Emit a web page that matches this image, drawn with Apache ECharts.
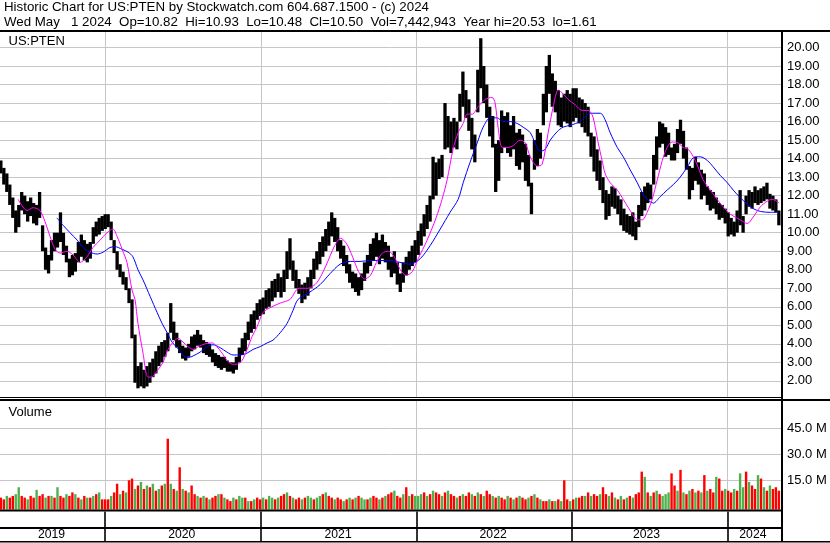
<!DOCTYPE html>
<html><head><meta charset="utf-8">
<script src="https://cdn.jsdelivr.net/npm/echarts@6/dist/echarts.min.js"></script>
<style>html,body{margin:0;padding:0;background:#fff}#c{width:830px;height:543px}</style>
</head><body><div id="c"></div>
<script>
// ---- DATA (weekly, first bar = Wed 2019-05-01) ----
const lo2019=[13.2,12.6,12.2,11.5,10.8,10.0,10.3,11.2,11.0,10.6,10.9,10.5,10.4,10.8,9.0,8.0,7.8,8.5,9.0,9.2,9.5,8.8,8.4,7.6,7.7,7.9,8.4,8.7,8.5,8.4,8.6,9.4,9.8,9.9,10.1];
const hi2019=[13.9,13.5,13.2,12.6,11.9,11.2,11.5,12.2,12.0,11.7,11.9,11.6,11.5,12.2,10.4,9.2,8.8,9.6,10.0,10.0,11.1,10.0,9.3,8.6,8.8,8.9,9.5,9.9,9.6,9.4,9.5,10.3,10.6,10.8,10.9];
const lo2020=[10.2,10.3,9.6,8.9,8.0,7.6,7.2,6.9,6.2,4.3,1.9,1.6,1.7,1.6,1.7,1.9,2.2,2.4,2.8,3.0,3.3,3.6,4.6,4.2,3.8,3.5,3.2,3.1,3.3,3.6,3.7,3.9,3.8,3.5,3.4,3.3,3.0,2.8,2.7,2.6,2.7,2.5,2.5,2.4,2.6,3.0,3.4,3.6,4.2,4.6,4.8,5.3];
const hi2020=[11.0,11.0,10.6,9.6,9.0,8.3,7.9,7.6,7.0,6.4,4.5,2.8,3.0,2.6,2.8,3.0,3.2,3.6,3.9,4.1,4.2,4.6,6.2,5.2,4.6,4.2,3.9,3.8,4.0,4.4,4.5,4.75,4.5,4.2,4.1,4.0,3.7,3.5,3.4,3.3,3.3,3.1,3.0,3.0,3.3,3.8,4.3,4.6,5.2,5.6,5.8,6.2];
const lo2021=[5.5,5.6,5.9,6.0,6.3,6.5,6.8,6.5,6.8,7.5,8.0,7.4,7.0,6.7,6.2,6.4,6.6,7.0,7.5,8.0,8.3,8.7,9.0,9.3,9.8,9.5,9.0,8.6,8.2,7.8,7.3,7.0,6.8,6.6,6.9,7.4,7.8,8.2,8.5,8.7,8.3,8.6,8.4,8.0,7.6,7.8,7.2,6.8,7.3,7.7,8.0,8.2,8.4];
const hi2021=[6.4,6.5,6.9,7.0,7.4,7.5,7.8,7.6,8.0,9.0,9.7,8.5,8.0,7.5,7.2,7.3,7.6,8.0,8.6,9.0,9.5,9.8,10.2,10.6,11.1,10.8,10.3,9.6,9.3,8.8,8.3,7.9,7.8,7.6,7.8,8.4,8.8,9.4,9.7,10.0,9.6,9.9,9.5,9.3,8.7,9.0,8.4,7.8,8.4,8.7,9.0,9.3,9.6];
const lo2022=[8.8,9.3,9.8,10.2,10.6,11.8,12.0,12.9,13.0,14.5,14.6,14.3,14.6,14.5,16.0,16.8,16.2,15.5,14.5,13.8,16.5,17.8,17.0,16.2,15.2,14.6,12.2,12.8,14.3,14.6,14.3,14.1,14.5,13.6,13.4,13.8,12.8,12.5,11.0,13.4,13.6,14.0,15.8,16.5,17.5,16.8,16.5,15.8,15.7,16.0,15.9,15.7];
const hi2022=[10.1,10.5,11.0,11.5,12.0,14.1,13.8,14.0,14.2,17.0,16.3,16.0,16.2,16.0,17.5,18.7,17.7,17.2,16.2,15.3,18.8,20.5,19.0,18.0,16.8,16.3,14.8,15.0,16.6,16.3,16.5,15.8,16.3,15.4,15.6,15.3,14.8,14.2,12.7,15.0,15.6,15.4,17.5,19.0,19.6,18.6,18.2,17.7,17.3,17.5,17.7,17.5];
const lo2023=[16.0,16.2,15.9,15.7,15.4,15.2,14.1,13.3,12.8,12.3,11.6,10.7,10.9,11.4,11.3,11.0,10.4,10.1,10.0,9.9,9.8,9.6,10.3,10.9,11.2,11.6,11.8,12.6,13.4,14.6,14.8,14.1,14.2,13.9,13.9,14.3,14.8,14.0,13.4,11.8,12.3,12.8,12.6,11.8,12.0,11.5,11.2,11.3,11.0,10.7,10.8,10.5];
const hi2023=[17.8,17.8,17.3,17.2,17.0,16.8,15.4,15.2,14.5,13.9,13.0,12.3,12.1,12.5,12.4,12.0,11.8,11.3,11.0,10.9,11.1,10.6,11.5,12.2,12.5,12.7,12.6,14.2,15.2,16.0,15.9,15.7,15.4,14.6,14.8,15.6,16.1,15.5,14.6,13.6,13.5,14.1,13.8,13.4,13.2,12.5,12.3,12.2,11.9,11.6,11.5,11.3];
const lo2024=[9.8,9.9,9.8,10.0,10.4,10.0,11.0,11.4,11.3,11.6,11.5,11.6,11.7,11.8,11.3,11.2,11.1,10.4];
const hi2024=[11.1,10.8,10.6,11.2,12.3,10.9,12.0,12.3,12.2,12.5,12.3,12.4,12.5,12.7,12.1,12.0,11.8,11.2];

// volume in millions, and colour (g = up, r = down)
const vol2019=[5,4,6,5,6,7,11,6,5,4,6,5,9.5,6,7,5,6,6,5,11,6,5,7,6,8,7,5,4,6,5,5,6,7,8,4];
const vol2020=[4,4,6,8,13,7,9,8,15,16,10,12,14,10,12,11,13,9,10,12,13,39,13,10,9,22.5,10,9,8,12,7,6,5,6,5,4,5,6,7,7,5,4,3,5,4,6,5,5,3,3,4,5];
const vol2021=[4,5,4,6,5,4,5,6,7,8,6,5,4,5,4,5,6,5,4,5,6,7,8,6,5,4,5,4,3,4,5,4,5,6,5,4,4,5,6,5,4,5,6,7,8,9,6,5,7,11,6,7,6];
const vol2022=[6,7,8,6,7,9,8,7,6,8,9,7,6,5,6,7,6,8,7,6,8,7,6,9,7,6,5,6,5,4,6,5,4,5,6,5,4,5,6,7,5,4,3,3,4,3,3,4,3,15,4,3];
const vol2023=[4,5,5,6,6,8,6,7,6,7,11,7,6,8,5,4,6,4,5,6,5,7,8,20,17,8,6,8,9,7,6,7,8,19,12,9,21,8,7,9,10,8,9,8,18,9,10,8,17,16,9,10];
const vol2024=[9,8,10,9,19,11,20,14,12,10,18,16,11,9,12,10,11,9];
const volDir = 'rrgrrggrrgrrgrrgrgrgrrgrrgrgrgrgrgr' + 'rrgrrgrgrrgrgrgrgrgrgrgrgrgrgrrgrgrgrrgrgrrgrggrgrgr'.slice(0,52) +
  'rgrggrgrrgrgrrgrggrggrgrrgrrgrgrgrggrgrrgrgrrgrrgrgrg' + 'ggrgrgrrgrgrrgrgrrgrgrgrrgrgrrgrgrgrrgrgrgrrgrgrgr' +
  'rgrgrrgrgrrgrrgrgrgrgrgrrrgrgrgrgggrrgrgrgrgrgrgrrgr' + 'rgrrgrggrgrrgrgrgr';

// moving averages: [week index, value]
const maShort=[[5.8,11.8],[8.8,11.2],[10.8,11.35],[13.1,11.2],[14.8,10.6],[16.5,9.8],[18.2,9.1],[19.9,8.9],[22.2,9.0],[24.2,8.8],[26.6,8.4],[28.9,8.7],[30.9,9.2],[33.3,9.6],[35.6,10.0],[37.6,10.2],[39,9.8],[40.7,9.1],[42.3,8.4],[44,6.9],[45,6.4],[46,5.1],[47.7,3.5],[49.4,2.2],[51,2.25],[52.7,2.6],[54.4,3.0],[56.1,3.7],[57.8,4.1],[59.4,4.3],[61.1,4.1],[62.8,3.85],[64.5,3.7],[66.2,3.85],[68.5,4.0],[70.9,4.05],[72.5,3.85],[74.2,3.5],[75.9,3.1],[77.6,2.9],[79.2,2.9],[80.9,3.1],[82.6,3.7],[84.3,4.4],[85.9,4.9],[88,5.7],[90.3,5.95],[93.7,6.2],[97,6.4],[100,7.0],[103,7.0],[106,7.3],[109,8.2],[112,9.3],[114,9.7],[116,9.4],[118,8.7],[120,7.9],[122,7.5],[124,7.7],[126,8.4],[128,8.9],[130,9.0],[132,8.7],[134,8.0],[136,7.7],[138,7.9],[140,8.6],[143,9.6],[146,10.8],[148,11.8],[149.7,12.85],[151.7,14.5],[153.4,15.4],[155.1,15.9],[156.4,16.4],[158.1,16.4],[160.1,16.8],[162.5,17.2],[164.8,17.3],[165.8,17.0],[166.8,15.7],[168.2,14.6],[169.9,14.6],[171.9,14.7],[174.2,15.0],[175.9,14.85],[177.6,14.1],[179.9,13.6],[181.6,13.7],[183.6,15.4],[185.3,16.8],[187,17.7],[188.6,17.5],[190.3,17.2],[192.7,16.9],[195,16.6],[197,16.6],[198.4,16.35],[199.4,15.7],[200.4,14.85],[201.7,13.9],[202.7,13.2],[204.4,12.7],[206.8,12.3],[208.8,11.8],[211.1,11.2],[213.5,10.7],[215.2,10.7],[216.8,11.1],[218.5,11.8],[220.2,12.85],[221.9,13.9],[223.5,14.6],[225.2,14.9],[227.2,14.85],[228.9,14.6],[230.6,14.5],[232.3,14.1],[233.9,13.55],[235.6,12.85],[238,12.3],[240.3,11.8],[242.3,11.4],[244,11.1],[245.7,10.9],[248,10.7],[250.4,10.5],[252.4,10.85],[254.8,11.4],[257.1,11.7],[258.8,11.8],[261.1,11.6]];
const maLong=[[18.8,10.8],[20.9,10.4],[23.2,10.0],[25.6,9.6],[27.6,9.2],[29.9,8.95],[32.3,8.85],[34.3,8.95],[36.6,9.2],[38.3,9.25],[40.7,9.1],[42.7,8.95],[44.3,8.7],[46,8.0],[47.7,7.45],[50.1,6.55],[52.4,5.7],[54.1,5.1],[55.8,4.6],[57.4,4.1],[59.1,3.8],[61.1,3.4],[62.8,3.25],[64.5,3.35],[66.8,3.55],[69.2,3.85],[71.2,3.95],[73.5,3.8],[75.9,3.55],[77.9,3.4],[80.3,3.4],[82.6,3.5],[84.6,3.7],[87,3.85],[89.3,4.05],[91.3,4.2],[93.7,4.6],[96,5.1],[98,5.8],[99.7,6.4],[103.7,6.8],[107.1,7.2],[110.5,7.8],[113.8,8.3],[117.2,8.45],[120.5,8.45],[123.9,8.5],[127.2,8.5],[130.6,8.5],[133.9,8.4],[137.3,8.3],[140.7,8.6],[144,9.3],[147.4,10.2],[150.7,11.1],[153.4,11.8],[155.1,12.7],[157.4,13.8],[159.8,14.85],[161.8,15.7],[164.2,16.2],[166.5,16.2],[168.5,16.0],[170.9,16.0],[173.2,15.9],[175.2,15.7],[177.6,15.4],[179.2,14.85],[180.9,14.4],[182.6,14.5],[184.3,15.0],[186.6,15.45],[188.6,15.7],[191,15.8],[194.3,16.0],[197.7,16.45],[201.1,16.45],[202.7,16.1],[204.4,15.4],[206.8,14.6],[208.8,14.1],[211.1,13.4],[213.5,12.7],[215.2,12.15],[216.8,11.8],[218.9,11.6],[221.2,11.95],[223.5,12.3],[225.6,12.6],[227.9,13.0],[230.3,13.55],[232.3,14.05],[234.6,14.1],[237,13.9],[239,13.55],[241.3,13.1],[243.7,12.7],[245.7,12.3],[248,11.9],[250.4,11.55],[252.4,11.3],[254.8,11.15],[258.1,11.1],[260.8,11.1]];

const priceTicks=[2,3,4,5,6,7,8,9,10,11,12,13,14,15,16,17,18,19,20];
const volTicks=[15,30,45];
const yearStarts=['2020-01-01','2021-01-01','2022-01-01','2023-01-01','2024-01-01'];
const yearLabelDates=['2019-08-28','2020-06-29','2021-07-01','2022-06-30','2023-06-25','2024-03-01'];
const headerLine1='Historic Chart for US:PTEN by Stockwatch.com 604.687.1500 - (c) 2024';
const headerLine2='Wed May   1 2024  Op=10.82  Hi=10.93  Lo=10.48  Cl=10.50  Vol=7,442,943  Year hi=20.53  lo=1.61';

// ---- BUILD ----
const D = 864e5;
const utc = s => { const p = s.split('-').map(Number); return Date.UTC(p[0], p[1]-1, p[2]); };
const t0 = utc('2019-05-01');
const wk = k => t0 + k*7*D;
const xMin = utc('2019-04-29'), xMax = utc('2024-05-06');
const priceLow = [].concat(lo2019, lo2020, lo2021, lo2022, lo2023, lo2024);
const priceHigh = [].concat(hi2019, hi2020, hi2021, hi2022, hi2023, hi2024);
const volume = [].concat(vol2019, vol2020, vol2021, vol2022, vol2023, vol2024);
const priceData = priceLow.map((l,i)=>[wk(i), l, priceHigh[i]]);
const volData = volume.map((v,i)=>[wk(i), v, volDir[i]==='g'?1:0]);
const yearTicks = yearStarts.map(utc);
const FONT = '"Liberation Sans", Arial, sans-serif';
const GRID = '#c6c6c6';

const xBase = (gi, extra) => Object.assign({
  type:'value', gridIndex: gi, min: xMin, max: xMax,
  axisLine:{show:false}, axisLabel:{show:false},
  axisTick:{show:false, customValues: yearTicks},
  splitLine:{show:true, lineStyle:{color:GRID, width:1}}
}, extra||{});

const chart = echarts.init(document.getElementById('c'), null, {renderer:'canvas'});
chart.setOption({
  animation:false,
  backgroundColor:'#fff',
  grid:[
    {left:0, top:32, width:781, height:365},
    {left:0, top:401, width:781, height:108.5},
    {left:0, top:511.5, width:781, height:29.5}
  ],
  xAxis:[
    xBase(0), xBase(1),
    xBase(2, {
      splitLine:{show:true, lineStyle:{color:'#000', width:1.6}},
      axisLabel:{show:true, customValues: yearLabelDates.map(utc), margin:-6, verticalAlign:'middle',
        formatter: v => String(new Date(v).getUTCFullYear()), color:'#000', fontSize:12.2, fontFamily:FONT, hideOverlap:false}
    })
  ],
  yAxis:[
    {type:'value', gridIndex:0, position:'right', min:1.131, max:20.836,
     axisLine:{show:false}, axisTick:{show:false, customValues:priceTicks},
     axisLabel:{customValues:priceTicks, formatter:v=>v.toFixed(2), margin:6, color:'#000', fontSize:13, fontFamily:FONT},
     splitLine:{show:true, lineStyle:{color:GRID, width:1}}},
    {type:'value', gridIndex:1, position:'right', min:-1.846, max:60.75,
     axisLine:{show:false}, axisTick:{show:false, customValues:volTicks},
     axisLabel:{customValues:volTicks, formatter:v=>v.toFixed(1)+' M', margin:6, color:'#000', fontSize:13, fontFamily:FONT},
     splitLine:{show:true, lineStyle:{color:GRID, width:1}}},
    {type:'value', gridIndex:2, min:0, max:1, show:false}
  ],
  series:[
    {type:'custom', xAxisIndex:0, yAxisIndex:0, data:priceData, encode:{x:0, y:[1,2]}, clip:true,
     renderItem:(params, api)=>{
       const a = api.coord([api.value(0), api.value(2)]);
       const b = api.coord([api.value(0), api.value(1)]);
       return {type:'rect', shape:{x:a[0]-1.65, y:a[1], width:3.3, height:Math.max(1, b[1]-a[1])}, style:{fill:'#000'}};
     }},
    {type:'line', xAxisIndex:0, yAxisIndex:0, data:maLong.map(p=>[wk(p[0]), p[1]]), showSymbol:false, smooth:0.3,
     lineStyle:{color:'#0000ff', width:1}},
    {type:'line', xAxisIndex:0, yAxisIndex:0, data:maShort.map(p=>[wk(p[0]), p[1]]), showSymbol:false, smooth:0.3,
     lineStyle:{color:'#ff00ff', width:1}},
    {type:'custom', xAxisIndex:1, yAxisIndex:1, data:volData, encode:{x:0, y:1},
     renderItem:(params, api)=>{
       const a = api.coord([api.value(0), api.value(1)]);
       const cs = params.coordSys;
       const bottom = cs.y + cs.height;
       return {type:'rect', shape:{x:a[0]-1.2, y:a[1], width:2.4, height:bottom-a[1]}, style:{fill: api.value(2) ? '#4db24d' : '#ff0000'}};
     }},
    {type:'line', xAxisIndex:2, yAxisIndex:2, data:[], silent:true}
  ],
  graphic:[
    {type:'text', left:4, top:1, style:{text:headerLine1, fill:'#000', font:'13.3px '+FONT}},
    {type:'text', left:4, top:16, style:{text:headerLine2, fill:'#000', font:'13.3px '+FONT}},
    {type:'text', left:8.5, top:35, style:{text:'US:PTEN', fill:'#000', font:'13px '+FONT}},
    {type:'text', left:8.5, top:405.5, style:{text:'Volume', fill:'#000', font:'13px '+FONT}},
    {type:'rect', shape:{x:0, y:30, width:830, height:2}, style:{fill:'#000'}, z:100},
    {type:'rect', shape:{x:781, y:30, width:2, height:512}, style:{fill:'#000'}, z:100},
    {type:'rect', shape:{x:0, y:397, width:781, height:1}, style:{fill:'#000'}, z:100},
    {type:'rect', shape:{x:0, y:399, width:830, height:2}, style:{fill:'#000'}, z:100},
    {type:'rect', shape:{x:0, y:509.5, width:781, height:2}, style:{fill:'#000'}, z:100},
    {type:'rect', shape:{x:0, y:527, width:781, height:2}, style:{fill:'#000'}, z:100},
    {type:'rect', shape:{x:0, y:541, width:830, height:1.5}, style:{fill:'#000'}, z:100}
  ]
});
</script></body></html>
